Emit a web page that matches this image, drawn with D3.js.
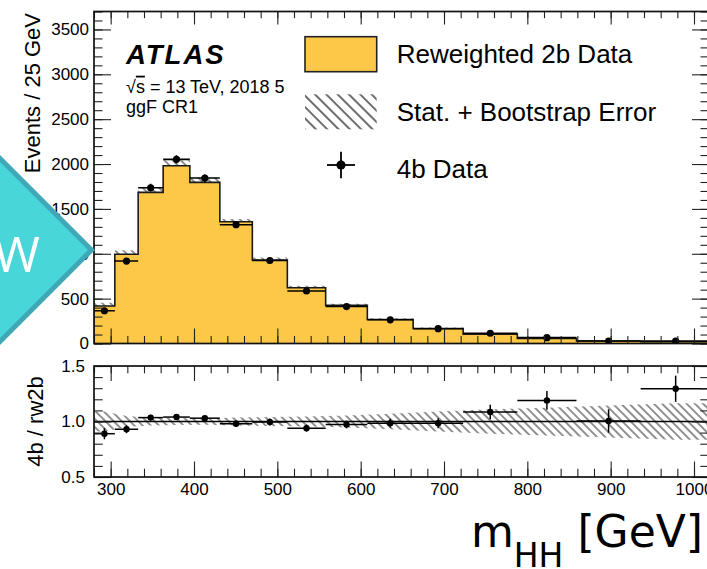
<!DOCTYPE html>
<html>
<head>
<meta charset="utf-8">
<script src="https://cdn.jsdelivr.net/npm/d3@7"></script>
<style>
  body { margin: 0; background: #fff; }
  svg { display: block; font-family: "Liberation Sans", Arial, sans-serif; }
</style>
</head>
<body>
<svg width="707" height="569"></svg>
<script>
// bins in m_HH (GeV)
var binEdges = [280, 305, 333, 363, 395, 431, 470, 512, 558, 608, 663, 723, 788, 859, 936, 1020];
// reweighted 2b histogram and its stat + bootstrap error
var rw2b    = [418, 994, 1684, 1981, 1796, 1357, 930, 622, 425, 268, 168, 105, 55, 28, 20];
var rw2bErr = [37, 45, 55, 60, 50, 30, 28, 22, 17, 13, 11, 10, 7, 4, 3];
// 4b data
var data4b  = [365, 919, 1736, 2052, 1844, 1324, 925, 585, 412, 264, 165, 114, 65, 28, 26];
// ratio panel
var ratio    = [0.89, 0.93, 1.035, 1.04, 1.03, 0.98, 0.995, 0.94, 0.973, 0.985, 0.985, 1.085, 1.19, 1.005, 1.295];
var ratioErr = [0.05, 0.035, 0.025, 0.022, 0.022, 0.027, 0.032, 0.032, 0.035, 0.04, 0.045, 0.065, 0.085, 0.105, 0.118];
var bandErr  = [0.09, 0.05, 0.035, 0.032, 0.03, 0.035, 0.04, 0.045, 0.055, 0.07, 0.09, 0.11, 0.125, 0.145, 0.165];

var xMajor = [300, 400, 500, 600, 700, 800, 900, 1000];
var yMajor = [0, 500, 1000, 1500, 2000, 2500, 3000, 3500];
var rMajor = [0.5, 1.0, 1.5];

var svg = d3.select("svg");
var font = "'Liberation Sans', Arial, sans-serif";

var left = 94, right = 709;
var pTop = 11.5, pBot = 343.5;
var rTop = 366, rBot = 477;

var x = d3.scaleLinear().domain([280, 1000]).range([left, 694]);
var y = d3.scaleLinear().domain([0, 3700]).range([pBot, pTop]);
var yr = d3.scaleLinear().domain([0.5, 1.5]).range([rBot, rTop]);

var bins = rw2b.map(function(v, i){
    return {lo: binEdges[i], hi: binEdges[i+1], c: (binEdges[i] + binEdges[i+1]) / 2,
            h: v, err: rw2bErr[i], d: data4b[i], r: ratio[i], re: ratioErr[i], be: bandErr[i]};
});
var last = bins[bins.length - 1];

// hatch patterns
var defs = svg.append("defs");
function hatch(id, gap, w){
    var p = defs.append("pattern")
        .attr("id", id)
        .attr("patternUnits", "userSpaceOnUse")
        .attr("width", gap).attr("height", gap)
        .attr("patternTransform", "rotate(-45)");
    p.append("line")
        .attr("x1", gap / 2).attr("y1", -1).attr("x2", gap / 2).attr("y2", gap + 1)
        .attr("stroke", "#6e6e6e").attr("stroke-width", w);
}
hatch("hatchPlot", 5.8, 1.5);
hatch("hatchLeg", 8, 2);

defs.append("clipPath").attr("id", "clipTop").append("rect")
    .attr("x", left).attr("y", pTop).attr("width", right - left).attr("height", pBot - pTop);
defs.append("clipPath").attr("id", "clipRat").append("rect")
    .attr("x", left).attr("y", rTop).attr("width", right - left).attr("height", rBot - rTop);

// ---------- top panel ----------
var gTop = svg.append("g").attr("clip-path", "url(#clipTop)");
var stepPts = bins.map(function(b){ return b; }).concat([{lo: last.hi, h: last.h, err: last.err}]);

gTop.append("path")
    .datum(stepPts)
    .attr("fill", "url(#hatchPlot)")
    .attr("d", d3.area().curve(d3.curveStepAfter)
        .x(function(d){ return x(d.lo); })
        .y0(function(d){ return y(d.h - d.err); })
        .y1(function(d){ return y(d.h + d.err); }));

gTop.append("path")
    .datum(stepPts)
    .attr("fill", "#FDC848")
    .attr("d", d3.area().curve(d3.curveStepAfter)
        .x(function(d){ return x(d.lo); })
        .y0(y(0))
        .y1(function(d){ return y(d.h); }));

gTop.append("path")
    .datum([{lo: 280, h: 0}].concat(stepPts))
    .attr("fill", "none")
    .attr("stroke", "#1a1a1a")
    .attr("stroke-width", 1.6)
    .attr("d", d3.line().curve(d3.curveStepAfter)
        .x(function(d){ return x(d.lo); })
        .y(function(d){ return y(d.h); }));

var pts = gTop.selectAll("g.pt").data(bins).enter().append("g").attr("class", "pt");
pts.append("line")
    .attr("x1", function(d){ return x(d.lo); })
    .attr("x2", function(d){ return x(d.hi); })
    .attr("y1", function(d){ return y(d.d); })
    .attr("y2", function(d){ return y(d.d); })
    .attr("stroke", "#000").attr("stroke-width", 1.6);
pts.append("line")
    .attr("x1", function(d){ return x(d.c); })
    .attr("x2", function(d){ return x(d.c); })
    .attr("y1", function(d){ return y(d.d * (1 - d.re)); })
    .attr("y2", function(d){ return y(d.d * (1 + d.re)); })
    .attr("stroke", "#000").attr("stroke-width", 1.6);
pts.append("circle")
    .attr("cx", function(d){ return x(d.c); })
    .attr("cy", function(d){ return y(d.d); })
    .attr("r", 3.6)
    .attr("fill", "#000");

// ---------- ratio panel ----------
var gRat = svg.append("g").attr("clip-path", "url(#clipRat)");
var bandPts = [{c: 280, be: bins[0].be}].concat(bins).concat([{c: last.hi, be: last.be}]);
gRat.append("path")
    .datum(bandPts)
    .attr("fill", "url(#hatchPlot)")
    .attr("d", d3.area()
        .x(function(d){ return x(d.c); })
        .y0(function(d){ return yr(1 - d.be); })
        .y1(function(d){ return yr(1 + d.be); }));

gRat.append("line")
    .attr("x1", left).attr("x2", right)
    .attr("y1", yr(1)).attr("y2", yr(1))
    .attr("stroke", "#000").attr("stroke-width", 1.4);

var rpts = gRat.selectAll("g.rpt").data(bins).enter().append("g").attr("class", "rpt");
rpts.append("line")
    .attr("x1", function(d){ return x(d.lo); })
    .attr("x2", function(d){ return x(d.hi); })
    .attr("y1", function(d){ return yr(d.r); })
    .attr("y2", function(d){ return yr(d.r); })
    .attr("stroke", "#000").attr("stroke-width", 1.5);
rpts.append("line")
    .attr("x1", function(d){ return x(d.c); })
    .attr("x2", function(d){ return x(d.c); })
    .attr("y1", function(d){ return yr(d.r - d.re); })
    .attr("y2", function(d){ return yr(d.r + d.re); })
    .attr("stroke", "#000").attr("stroke-width", 1.5);
rpts.append("circle")
    .attr("cx", function(d){ return x(d.c); })
    .attr("cy", function(d){ return yr(d.r); })
    .attr("r", 3.2)
    .attr("fill", "#000");

// ---------- axes ----------
function styleAxis(g, size){
    g.attr("font-size", size).attr("font-family", font);
    g.select(".domain").remove();
    g.selectAll(".tick line").attr("stroke", "#222").attr("stroke-width", 1.1);
    g.selectAll("text").attr("fill", "#000");
}
function addAxis(axis, tx, ty, size){
    var g = svg.append("g").attr("transform", "translate(" + tx + "," + ty + ")").call(axis);
    styleAxis(g, size || 17);
    return g;
}
var xMinor = d3.range(280, 1021, 20);
var rMinor = d3.range(5, 16).map(function(v){ return v / 10; });

// top panel
addAxis(d3.axisLeft(y).tickValues(yMajor).tickSize(-17).tickPadding(5).tickFormat(d3.format("d")), left, 0);
addAxis(d3.axisLeft(y).tickValues(d3.range(0, 3701, 100)).tickSize(-8.5).tickFormat(""), left, 0);
addAxis(d3.axisRight(y).tickValues(yMajor).tickSize(-17).tickFormat(""), right, 0);
addAxis(d3.axisRight(y).tickValues(d3.range(0, 3701, 100)).tickSize(-8.5).tickFormat(""), right, 0);
addAxis(d3.axisBottom(x).tickValues(xMajor).tickSize(-15).tickFormat(""), 0, pBot);
addAxis(d3.axisBottom(x).tickValues(xMinor).tickSize(-7.5).tickFormat(""), 0, pBot);
addAxis(d3.axisTop(x).tickValues(xMajor).tickSize(-13).tickFormat(""), 0, pTop);
addAxis(d3.axisTop(x).tickValues(xMinor).tickSize(-6.7).tickFormat(""), 0, pTop);

// ratio panel
addAxis(d3.axisLeft(yr).tickValues(rMajor).tickSize(-17.5).tickPadding(9).tickFormat(d3.format(".1f")), left, 0);
addAxis(d3.axisLeft(yr).tickValues(rMinor).tickSize(-8.7).tickFormat(""), left, 0);
addAxis(d3.axisRight(yr).tickValues(rMajor).tickSize(-17.5).tickFormat(""), right, 0);
addAxis(d3.axisRight(yr).tickValues(rMinor).tickSize(-8.7).tickFormat(""), right, 0);
addAxis(d3.axisBottom(x).tickValues(xMajor).tickSize(-15.5).tickPadding(6).tickFormat(d3.format("d")), 0, rBot);
addAxis(d3.axisBottom(x).tickValues(xMinor).tickSize(-8.3).tickFormat(""), 0, rBot);
addAxis(d3.axisTop(x).tickValues(xMajor).tickSize(-15).tickFormat(""), 0, rTop);
addAxis(d3.axisTop(x).tickValues(xMinor).tickSize(-7.3).tickFormat(""), 0, rTop);

// frames
[[pTop, pBot], [rTop, rBot]].forEach(function(f){
    svg.append("rect")
        .attr("x", left).attr("y", f[0])
        .attr("width", right - left).attr("height", f[1] - f[0])
        .attr("fill", "none").attr("stroke", "#111").attr("stroke-width", 1.7);
});

// ---------- labels ----------
svg.append("text")
    .attr("transform", "translate(40,13) rotate(-90)")
    .attr("text-anchor", "end")
    .style("font-size", "22px")
    .text("Events / 25 GeV");

svg.append("text")
    .attr("transform", "translate(43," + yr(1) + ") rotate(-90)")
    .attr("text-anchor", "middle")
    .style("font-size", "22px")
    .text("4b / rw2b");

var xt = svg.append("text")
    .attr("x", 703).attr("y", 546.7)
    .attr("text-anchor", "end")
    .style("font-family", "'DejaVu Sans', sans-serif")
    .style("font-size", "44px");
xt.append("tspan").text("m");
xt.append("tspan").attr("dy", 20).style("font-size", "33px").text("HH");
xt.append("tspan").attr("dy", -20).text(" [GeV]");

svg.append("text")
    .attr("x", 126).attr("y", 64)
    .style("font-size", "27.5px").style("font-weight", "bold").style("font-style", "italic")
    .style("letter-spacing", "2px")
    .text("ATLAS");

var lumi = svg.append("text").attr("x", 126).attr("y", 92.7).style("font-size", "18px");
lumi.append("tspan").text("\u221A");
lumi.append("tspan").style("text-decoration", "overline").text("s");
lumi.append("tspan").text(" = 13 TeV, 2018 58.5 fb\u207B\u00B9");

svg.append("text").attr("x", 126).attr("y", 113.3).style("font-size", "18px").text("ggF CR1");

// legend (white box hides the end of the lumi line)
var leg = svg.append("g");
leg.append("rect").attr("x", 285).attr("y", 30).attr("width", 404).attr("height", 170).attr("fill", "#fff");
leg.append("rect").attr("x", 305).attr("y", 36.7).attr("width", 71.7).attr("height", 35)
    .attr("fill", "#FDC848").attr("stroke", "#222").attr("stroke-width", 1.6);
leg.append("rect").attr("x", 305).attr("y", 94.3).attr("width", 71.7).attr("height", 35)
    .attr("fill", "url(#hatchLeg)");
leg.append("line").attr("x1", 327).attr("x2", 355).attr("y1", 165).attr("y2", 165)
    .attr("stroke", "#000").attr("stroke-width", 1.8);
leg.append("line").attr("x1", 341).attr("x2", 341).attr("y1", 151.7).attr("y2", 178.3)
    .attr("stroke", "#000").attr("stroke-width", 1.8);
leg.append("circle").attr("cx", 341).attr("cy", 165).attr("r", 4.6).attr("fill", "#000");
var legText = ["Reweighted 2b Data", "Stat. + Bootstrap Error", "4b Data"];
var legY = [63.3, 120.5, 178.3];
leg.selectAll("text.lg").data(legText).enter().append("text")
    .attr("class", "lg")
    .attr("x", 396.7)
    .attr("y", function(d, i){ return legY[i]; })
    .style("font-size", "26px")
    .text(function(d){ return d; });

// ---------- overlay badge ----------
var badge = svg.append("g");
badge.append("polygon")
    .attr("points", "95,250 0,155 -95,250 0,345")
    .attr("fill", "#3FA8B8");
badge.append("polygon")
    .attr("points", "88,250 0,162 -88,250 0,338")
    .attr("fill", "#48D6D9");
badge.append("text")
    .attr("x", 40).attr("y", 272)
    .attr("text-anchor", "end")
    .attr("fill", "#fff")
    .style("font-family", "'Open Sans', sans-serif")
    .style("font-size", "50px")
    .text("W");
</script>
</body>
</html>
